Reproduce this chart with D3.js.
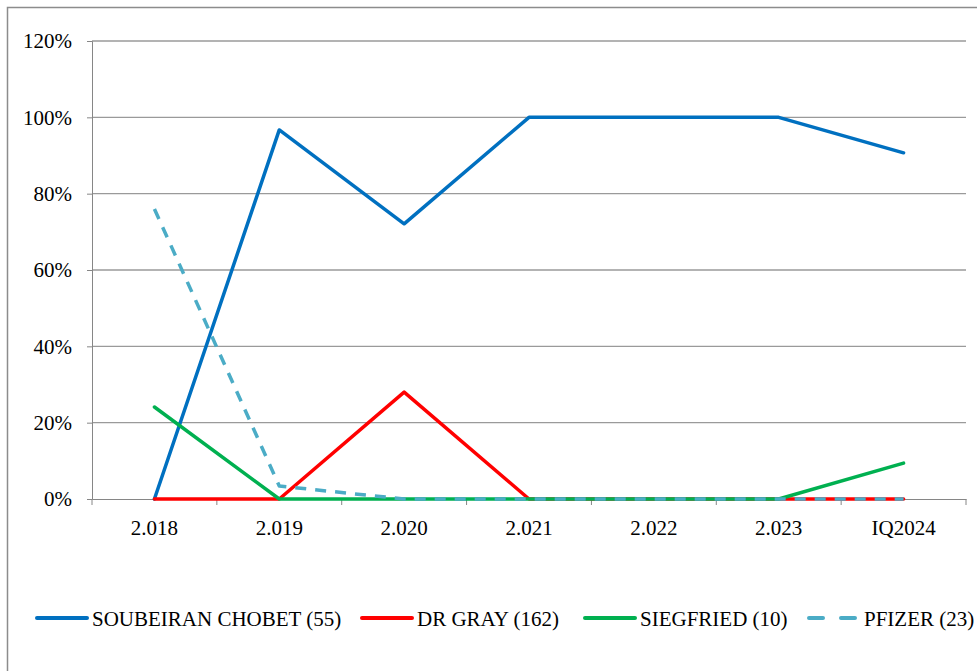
<!DOCTYPE html>
<html>
<head>
<meta charset="utf-8">
<script src="https://cdn.jsdelivr.net/npm/d3@7/dist/d3.min.js"></script>
<style>
  body { margin: 0; background: #fff; }
  svg { display: block; }
  svg text { font-family: "Liberation Serif", "Times New Roman", Times, serif; }
</style>
</head>
<body>
<svg id="chart" width="977" height="671"></svg>
<script>
'use strict';

const categories = ["2.018", "2.019", "2.020", "2.021", "2.022", "2.023", "IQ2024"];
const yTicks = [0, 0.2, 0.4, 0.6, 0.8, 1.0, 1.2];

const soubeiran = [0, 0.967, 0.721, 1.0, 1.0, 1.0, 0.907];
const drGray    = [0, 0, 0.28, 0, 0, 0, 0];
const siegfried = [0.241, 0, 0, 0, 0, 0, 0.094];
const pfizer    = [0.76, 0.034, 0, 0, 0, 0, 0];

const seriesNames = ["SOUBEIRAN CHOBET (55)", "DR GRAY (162)", "SIEGFRIED (10)", "PFIZER (23)"];

const series = [
  { name: seriesNames[0], values: soubeiran, color: "#0070C0", dash: null },
  { name: seriesNames[1], values: drGray, color: "#FF0000", dash: null },
  { name: seriesNames[2], values: siegfried, color: "#00B050", dash: null },
  { name: seriesNames[3], values: pfizer, color: "#4BACC6", dash: "11,9" }
];

const svg = d3.select("#chart");

// outer chart border
svg.append("rect")
  .attr("x", 7.5).attr("y", 7.5)
  .attr("width", 990).attr("height", 700)
  .attr("fill", "none")
  .attr("stroke", "#8c8c8c")
  .attr("stroke-width", 1.5);

const plotL = 92, plotR = 966, plotT = 41, plotB = 499;

const x = d3.scaleBand().domain(categories).range([plotL, plotR]);
const y = d3.scaleLinear().domain([0, 1.2]).range([plotB, plotT]);

// gridlines
svg.append("g")
  .selectAll("line")
  .data(yTicks.filter(t => t > 0))
  .enter()
  .append("line")
  .attr("x1", plotL).attr("x2", plotR)
  .attr("y1", d => y(d)).attr("y2", d => y(d))
  .attr("stroke", "#9a9a9a")
  .attr("stroke-width", 1.3);

// y axis
const yAxis = svg.append("g")
  .attr("transform", `translate(${plotL},0)`)
  .call(d3.axisLeft(y).tickValues(yTicks).tickFormat(d3.format(".0%")).tickSize(5).tickPadding(15));

// x axis
const xAxis = svg.append("g")
  .attr("transform", `translate(0,${plotB})`)
  .call(d3.axisBottom(x).tickSize(0).tickPadding(21));

// category boundary ticks
xAxis.append("g")
  .selectAll("line")
  .data(d3.range(categories.length + 1))
  .enter()
  .append("line")
  .attr("x1", i => plotL + i * x.step())
  .attr("x2", i => plotL + i * x.step())
  .attr("y1", 0).attr("y2", 6)
  .attr("stroke", "#868686");

[yAxis, xAxis].forEach(ax => {
  ax.attr("font-family", null).attr("font-size", null);
  ax.selectAll(".domain").attr("stroke", "#868686");
  ax.selectAll(".tick line").attr("stroke", "#868686");
  ax.selectAll("text")
    .style("font-size", "21px")
    .attr("fill", "#000");
});

const line = d3.line()
  .x((d, i) => x(categories[i]) + x.bandwidth() / 2)
  .y(d => y(d));

svg.append("g")
  .selectAll("path")
  .data(series)
  .enter()
  .append("path")
  .attr("d", d => line(d.values))
  .attr("fill", "none")
  .attr("stroke", d => d.color)
  .attr("stroke-width", 3.5)
  .attr("stroke-linejoin", "round")
  .attr("stroke-linecap", d => d.dash ? "butt" : "round")
  .attr("stroke-dasharray", d => d.dash);

// legend
const legendX = [37, 362, 585, 807];
const leg = svg.append("g").attr("transform", "translate(0,618)");
const items = leg.selectAll("g")
  .data(series)
  .enter()
  .append("g")
  .attr("transform", (d, i) => `translate(${legendX[i]},0)`);

items.append("line")
  .attr("x1", d => d.dash ? 2 : 0).attr("x2", d => d.dash ? 48 : 50)
  .attr("y1", 0).attr("y2", 0)
  .attr("stroke", d => d.color)
  .attr("stroke-width", 4)
  .attr("stroke-linecap", "round")
  .attr("stroke-dasharray", d => d.dash ? "14,18" : null);

items.append("text")
  .attr("x", (d, i) => i === 3 ? 57 : 55)
  .attr("y", 8)
  .style("font-size", "21px")
  .attr("fill", "#000")
  .text(d => d.name);
</script>
</body>
</html>
